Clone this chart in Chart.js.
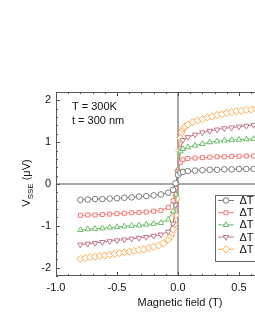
<!DOCTYPE html>
<html>
<head>
<meta charset="utf-8">
<script src="https://cdn.jsdelivr.net/npm/chart.js@4.4.1/dist/chart.umd.min.js"></script>
<style>
  html, body { margin: 0; padding: 0; background: #fff; overflow: hidden; width: 255px; height: 330px; }
  canvas { display: block; }
</style>
</head>
<body>
<canvas id="sseChart" width="320" height="330"></canvas>
<script>
// field sweep (T) for the four sparser curves
const fieldMain = [-0.80, -0.74, -0.68, -0.62, -0.56, -0.50, -0.44, -0.38, -0.32, -0.26, -0.20, -0.14, -0.08, -0.04, -0.02,
  0.00, 0.02, 0.04, 0.08, 0.14, 0.20, 0.26, 0.32, 0.38, 0.44, 0.50, 0.56, 0.62, 0.68, 0.74, 0.80];
// orange curve has a denser sweep
const fieldDense = [-0.80, -0.76, -0.72, -0.68, -0.64, -0.60, -0.56, -0.52, -0.48, -0.44, -0.40, -0.36, -0.32, -0.28, -0.24,
  -0.20, -0.16, -0.12, -0.08, -0.06, -0.05, -0.04, -0.03, -0.02, -0.01, 0.00, 0.01, 0.02, 0.03, 0.04, 0.05, 0.06,
  0.08, 0.12, 0.16, 0.20, 0.24, 0.28, 0.32, 0.36, 0.40, 0.44, 0.48, 0.52, 0.56, 0.60, 0.64, 0.68, 0.72, 0.76, 0.80];

// V_SSE (uV)
const vGray = [-0.38, -0.37, -0.36, -0.36, -0.35, -0.34, -0.33, -0.32, -0.30, -0.29, -0.27, -0.25, -0.21, -0.14, 0.02,
  0.22, 0.27, 0.29, 0.31, 0.32, 0.33, 0.34, 0.34, 0.35, 0.35, 0.36, 0.36, 0.36, 0.37, 0.37, 0.37];
const vRed = [-0.75, -0.74, -0.74, -0.73, -0.72, -0.71, -0.70, -0.69, -0.68, -0.67, -0.65, -0.63, -0.56, -0.40, -0.10,
  0.30, 0.52, 0.58, 0.61, 0.62, 0.63, 0.64, 0.65, 0.65, 0.66, 0.66, 0.67, 0.67, 0.68, 0.68, 0.69];
const vGreen = [-1.10, -1.08, -1.07, -1.06, -1.04, -1.03, -1.01, -1.00, -0.99, -0.97, -0.95, -0.93, -0.85, -0.65, -0.25,
  0.35, 0.78, 0.84, 0.88, 0.92, 0.96, 1.00, 1.02, 1.04, 1.05, 1.06, 1.07, 1.08, 1.09, 1.10, 1.11];
const vPurple = [-1.45, -1.43, -1.41, -1.39, -1.37, -1.35, -1.33, -1.31, -1.29, -1.27, -1.24, -1.21, -1.14, -0.95, -0.50,
  0.30, 0.85, 1.05, 1.12, 1.18, 1.23, 1.27, 1.30, 1.33, 1.35, 1.37, 1.39, 1.41, 1.42, 1.44, 1.45];
const vOrange = [-1.79, -1.77, -1.75, -1.74, -1.72, -1.71, -1.69, -1.67, -1.65, -1.63, -1.62, -1.60, -1.58, -1.56, -1.53,
  -1.50, -1.47, -1.42, -1.33, -1.24, -1.17, -1.08, -0.96, -0.75, -0.35, 0.30, 0.80, 1.10, 1.24, 1.31, 1.35, 1.38,
  1.42, 1.48, 1.52, 1.55, 1.59, 1.62, 1.65, 1.67, 1.70, 1.72, 1.74, 1.75, 1.77, 1.78, 1.79, 1.80, 1.81, 1.82, 1.83];

const seriesLabels = ['\u0394T', '\u0394T', '\u0394T', '\u0394T', '\u0394T'];
const xTicks = [-1.0, -0.5, 0.0, 0.5, 1.0];
const yTicks = [-2, -1, 0, 1, 2];

const FONT = 'Arial, "Liberation Sans", sans-serif';

function toPoints(xs, ys) {
  return xs.map((x, i) => ({ x: x, y: ys[i] }));
}

function makeSet(label, xs, ys, color, style, radius, rotation) {
  return {
    label: label,
    data: toPoints(xs, ys),
    showLine: true,
    borderColor: color,
    borderWidth: 1,
    pointStyle: style,
    pointRadius: radius,
    pointRotation: rotation || 0,
    pointBorderColor: color,
    pointBackgroundColor: '#fff',
    pointBorderWidth: 1
  };
}

const sets = [
  makeSet(seriesLabels[0], fieldMain, vGray, '#7a7a7a', 'circle', 2.8),
  makeSet(seriesLabels[1], fieldMain, vRed, '#ef7a7a', 'rect', 2.8),
  makeSet(seriesLabels[2], fieldMain, vGreen, '#6cbb6c', 'triangle', 3.2),
  makeSet(seriesLabels[3], fieldMain, vPurple, '#c07888', 'triangle', 3.2, 180),
  makeSet(seriesLabels[4], fieldDense, vOrange, '#ffaa55', 'rectRot', 3.6)
];

const decorations = {
  id: 'decorations',
  beforeDatasetsDraw(chart) {
    const { ctx, chartArea: a, scales: { x, y } } = chart;
    const x0 = x.getPixelForValue(0);
    const y0 = y.getPixelForValue(0);
    ctx.save();
    ctx.strokeStyle = '#8c8c8c';
    ctx.lineWidth = 1.5;
    ctx.beginPath();
    ctx.moveTo(x0, a.top);
    ctx.lineTo(x0, a.bottom);
    ctx.moveTo(a.left, y0);
    ctx.lineTo(a.right, y0);
    ctx.stroke();
    ctx.restore();
  },
  afterDatasetsDraw(chart) {
    const { ctx, chartArea: a, scales: { x, y } } = chart;
    ctx.save();
    ctx.strokeStyle = '#555';
    ctx.lineWidth = 1;
    ctx.strokeRect(a.left + 0.5, a.top + 0.5, a.right - a.left - 1, a.bottom - a.top - 1);

    // inward ticks on all four sides
    ctx.beginPath();
    for (let k = -10; k <= 10; k++) {
      const v = k / 10;
      const len = k % 5 === 0 ? 4 : 2;
      const px = Math.round(x.getPixelForValue(v)) + 0.5;
      ctx.moveTo(px, a.bottom); ctx.lineTo(px, a.bottom - len);
      ctx.moveTo(px, a.top); ctx.lineTo(px, a.top + len);
    }
    for (let k = -11; k <= 11; k++) {
      const v = k / 5;
      const len = k % 5 === 0 ? 4 : 2;
      const py = Math.round(y.getPixelForValue(v)) + 0.5;
      ctx.moveTo(a.left, py); ctx.lineTo(a.left + len, py);
      ctx.moveTo(a.right, py); ctx.lineTo(a.right - len, py);
    }
    ctx.stroke();
    ctx.restore();
  },
  afterDraw(chart) {
    const { ctx, chartArea: a } = chart;
    ctx.save();
    ctx.fillStyle = '#111';
    ctx.textBaseline = 'middle';
    ctx.font = '11px ' + FONT;
    ctx.textAlign = 'left';
    ctx.fillText('T = 300K', a.left + 16, 107);
    ctx.fillText('t = 300 nm', a.left + 16, 121);

    // x title
    ctx.textAlign = 'center';
    ctx.fillText('Magnetic field (T)', 180, 303);

    // y title with subscript
    ctx.save();
    ctx.translate(30, 183);
    ctx.rotate(-Math.PI / 2);
    ctx.textBaseline = 'alphabetic';
    ctx.textAlign = 'left';
    const big = '11px ' + FONT, small = '8px ' + FONT;
    ctx.font = big; const wV = ctx.measureText('V').width;
    ctx.font = small; const wS = ctx.measureText('SSE').width;
    ctx.font = big; const wU = ctx.measureText(' (\u03bcV)').width;
    let tx = -(wV + wS + wU) / 2;
    ctx.font = big; ctx.fillText('V', tx, 0); tx += wV;
    ctx.font = small; ctx.fillText('SSE', tx, 3); tx += wS;
    ctx.font = big; ctx.fillText(' (\u03bcV)', tx, 0);
    ctx.restore();

    // legend box
    const bx = 215.5, by = 195.5;
    ctx.fillStyle = '#fff';
    ctx.fillRect(bx, by, 120, 66);
    ctx.strokeStyle = '#666';
    ctx.lineWidth = 1;
    ctx.strokeRect(bx, by, 120, 66);
    chart.data.datasets.forEach((ds, i) => {
      const ly = 200.5 + i * 12.2;
      ctx.strokeStyle = ds.borderColor;
      ctx.beginPath();
      ctx.moveTo(218, ly);
      ctx.lineTo(234, ly);
      ctx.stroke();
      ctx.fillStyle = '#fff';
      Chart.helpers.drawPoint(ctx, {
        pointStyle: ds.pointStyle,
        radius: ds.pointRadius,
        rotation: ds.pointRotation,
        borderWidth: 1
      }, 226, ly);
      ctx.fillStyle = '#111';
      ctx.font = '11px ' + FONT;
      ctx.textAlign = 'left';
      ctx.textBaseline = 'middle';
      ctx.fillText(ds.label, 239.5, ly + 0.5);
    });
    ctx.restore();
  }
};

new Chart(document.getElementById('sseChart'), {
  type: 'scatter',
  data: { datasets: sets },
  options: {
    responsive: false,
    animation: false,
    devicePixelRatio: 1,
    layout: { padding: { top: 92, right: 20, left: 0, bottom: 0 } },
    plugins: { legend: { display: false }, tooltip: { enabled: false } },
    scales: {
      x: {
        type: 'linear',
        min: -1,
        max: 1,
        afterBuildTicks: (s) => { s.ticks = xTicks.map(v => ({ value: v })); },
        afterFit: (s) => { s.height = 54; },
        grid: { display: false, drawTicks: false },
        border: { display: false },
        ticks: {
          padding: 5,
          color: '#111',
          font: { family: FONT, size: 11 },
          maxRotation: 0,
          callback: (v) => Number(v).toFixed(1)
        }
      },
      y: {
        type: 'linear',
        min: -2.2,
        max: 2.2,
        afterBuildTicks: (s) => { s.ticks = yTicks.map(v => ({ value: v })); },
        afterFit: (s) => { s.width = 56; },
        grid: { display: false, drawTicks: false },
        border: { display: false },
        ticks: {
          padding: 5,
          color: '#111',
          font: { family: FONT, size: 11 },
          callback: (v) => String(v)
        }
      }
    }
  },
  plugins: [decorations]
});
</script>
</body>
</html>
